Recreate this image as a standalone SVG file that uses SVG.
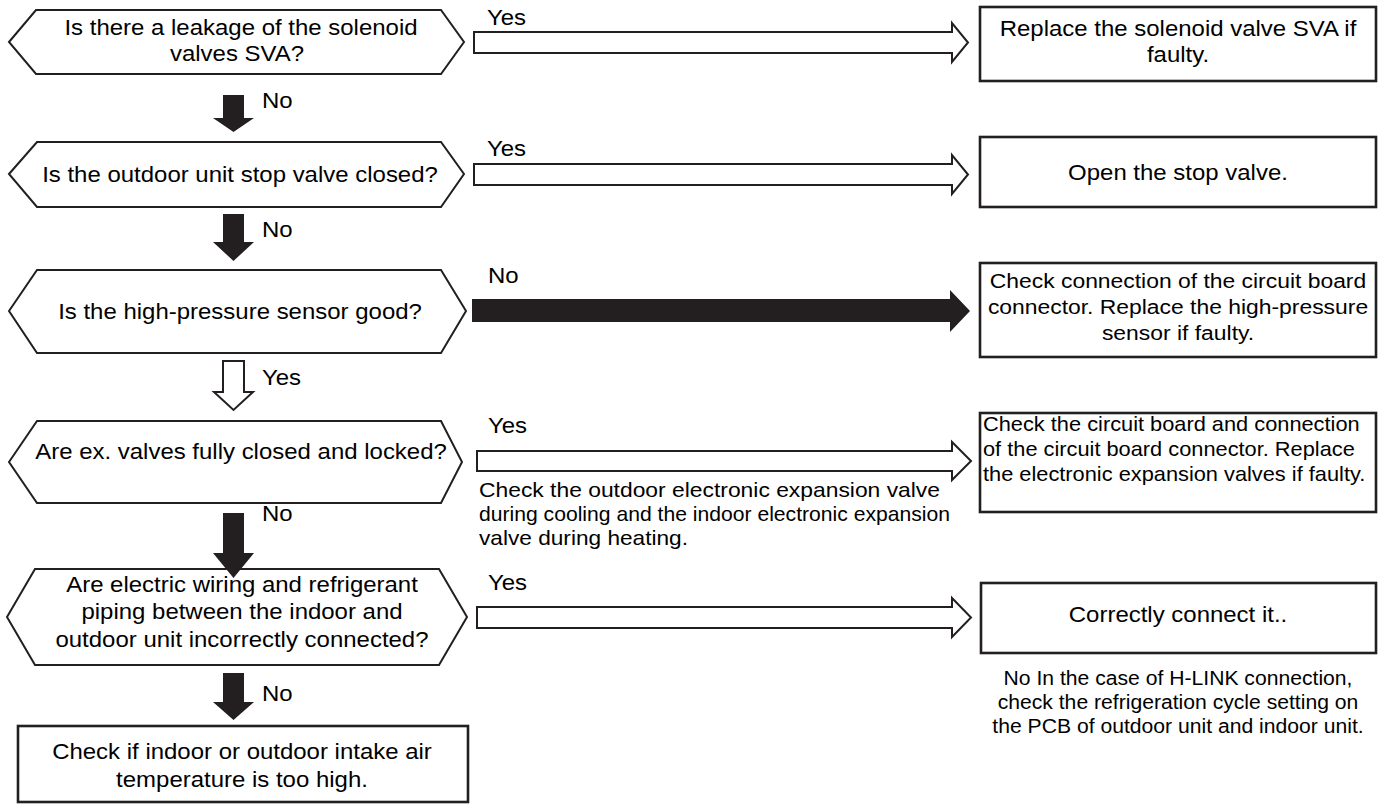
<svg xmlns="http://www.w3.org/2000/svg" width="1380" height="808" viewBox="0 0 1380 808">
<style>
.hex{fill:#fff;stroke:#231f20;stroke-width:2}
.box{fill:#fff;stroke:#231f20;stroke-width:2.6}
.open{fill:#fff;stroke:#231f20;stroke-width:2;stroke-linejoin:miter}
.solid{fill:#231f20;stroke:none}
text{font-family:"Liberation Sans",Arial,Helvetica,sans-serif;fill:#000}
.m{font-size:22px}
.b3{font-size:21px}
.b4{font-size:20px}
.n1{font-size:21px}
.n2{font-size:19.4px}
.c{text-anchor:middle}
</style>
<rect width="1380" height="808" fill="#fff"/>
<g id="q1">
<polygon class="hex" points="9,42 36,10 441,10 464,42 441,74 36,74"/>
<text class="m c" transform="translate(241 0) scale(1.09 1)" x="0" y="35">Is there a leakage of the solenoid</text>
<text class="m c" transform="translate(237 0) scale(1.09 1)" x="0" y="61">valves SVA?</text>
</g>
<g id="a1">
<rect class="box" x="980" y="7" width="396" height="74"/>
<text class="m c" transform="translate(1178 0) scale(1.09 1)" x="0" y="36">Replace the solenoid valve SVA if</text>
<text class="m c" transform="translate(1178 0) scale(1.09 1)" x="0" y="62">faulty.</text>
</g>
<g id="q2">
<polygon class="hex" points="9,174 37,142 441,142 464,174 441,207 37,207"/>
<text class="m c" transform="translate(240 0) scale(1.09 1)" x="0" y="182">Is the outdoor unit stop valve closed?</text>
</g>
<g id="a2">
<rect class="box" x="980" y="137" width="396" height="70"/>
<text class="m c" transform="translate(1178 0) scale(1.09 1)" x="0" y="180">Open the stop valve.</text>
</g>
<g id="q3">
<polygon class="hex" points="9,311 37,270 441,270 466,311 441,353 37,353"/>
<text class="m c" transform="translate(240 0) scale(1.09 1)" x="0" y="319">Is the high-pressure sensor good?</text>
</g>
<g id="a3">
<rect class="box" x="980" y="263" width="396" height="94"/>
<text class="b3 c" transform="translate(1178 0) scale(1.09 1)" x="0" y="288">Check connection of the circuit board</text>
<text class="b3 c" transform="translate(1178 0) scale(1.09 1)" x="0" y="314">connector. Replace the high-pressure</text>
<text class="b3 c" transform="translate(1178 0) scale(1.09 1)" x="0" y="340">sensor if faulty.</text>
</g>
<g id="q4">
<polygon class="hex" points="9,462 37,421 441,421 462,462 441,503 37,503"/>
<text class="m c" transform="translate(241 0) scale(1.09 1)" x="0" y="459">Are ex. valves fully closed and locked?</text>
</g>
<g id="a4">
<rect class="box" x="980" y="413" width="396" height="99"/>
<text class="b4" transform="translate(983 0) scale(1.09 1)" x="0" y="431">Check the circuit board and connection</text>
<text class="b4" transform="translate(983 0) scale(1.09 1)" x="0" y="456">of the circuit board connector. Replace</text>
<text class="b4" transform="translate(983 0) scale(1.09 1)" x="0" y="481">the electronic expansion valves if faulty.</text>
</g>
<g id="q5">
<polygon class="hex" points="7,617 35,569 439,569 467,617 439,665 35,665"/>
<text class="m c" transform="translate(242 0) scale(1.09 1)" x="0" y="592">Are electric wiring and refrigerant</text>
<text class="m c" transform="translate(242 0) scale(1.09 1)" x="0" y="619">piping between the indoor and</text>
<text class="m c" transform="translate(242 0) scale(1.09 1)" x="0" y="647">outdoor unit incorrectly connected?</text>
</g>
<g id="a5">
<rect class="box" x="981" y="583" width="395" height="70"/>
<text class="m c" transform="translate(1178 0) scale(1.09 1)" x="0" y="622">Correctly connect it..</text>
<text class="n2 c" transform="translate(1178 0) scale(1.09 1)" x="0" y="685">No In the case of H-LINK connection,</text>
<text class="n2 c" transform="translate(1178 0) scale(1.09 1)" x="0" y="709">check the refrigeration cycle setting on</text>
<text class="n2 c" transform="translate(1178 0) scale(1.09 1)" x="0" y="733">the PCB of outdoor unit and indoor unit.</text>
</g>
<g id="end">
<rect class="box" x="18" y="726" width="450" height="76"/>
<text class="m c" transform="translate(242 0) scale(1.09 1)" x="0" y="759">Check if indoor or outdoor intake air</text>
<text class="m c" transform="translate(242 0) scale(1.09 1)" x="0" y="787">temperature is too high.</text>
</g>
<g id="connectors">
<polygon class="open" points="474,32 952,32 952,23 968,42.5 952,62 952,53 474,53"/>
<text class="m" transform="translate(487 0) scale(1.09 1)" x="0" y="25">Yes</text>
<polygon class="solid" points="223,95 244,95 244,118 254,118 233.5,132 213,118 223,118"/>
<text class="m" transform="translate(262 0) scale(1.09 1)" x="0" y="108">No</text>
<polygon class="open" points="474,164 952,164 952,155 968,174.5 952,194 952,185 474,185"/>
<text class="m" transform="translate(487 0) scale(1.09 1)" x="0" y="156">Yes</text>
<polygon class="solid" points="223,214 244,214 244,242 254,242 233.5,261 213,242 223,242"/>
<text class="m" transform="translate(262 0) scale(1.09 1)" x="0" y="237">No</text>
<polygon class="solid" points="472,299 950,299 950,290 970,311 950,332 950,322 472,322"/>
<text class="m" transform="translate(488 0) scale(1.09 1)" x="0" y="283">No</text>
<polygon class="open" points="223,361 244,361 244,392 253,392 233.5,410 214,392 223,392"/>
<text class="m" transform="translate(262 0) scale(1.09 1)" x="0" y="385">Yes</text>
<polygon class="open" points="477,451 952,451 952,442 971,461 952,480 952,471 477,471"/>
<text class="m" transform="translate(488 0) scale(1.09 1)" x="0" y="433">Yes</text>
<text class="n1" x="479" y="497" textLength="461" lengthAdjust="spacingAndGlyphs">Check the outdoor electronic expansion valve</text>
<text class="n1" x="479" y="521" textLength="471" lengthAdjust="spacingAndGlyphs">during cooling and the indoor electronic expansion</text>
<text class="n1" x="479" y="545" textLength="209" lengthAdjust="spacingAndGlyphs">valve during heating.</text>
<polygon class="solid" points="223,513 244,513 244,553 254,553 233.5,578 213,553 223,553"/>
<text class="m" transform="translate(262 0) scale(1.09 1)" x="0" y="521">No</text>
<polygon class="open" points="477,607 952,607 952,598 971,617.5 952,637 952,628 477,628"/>
<text class="m" transform="translate(488 0) scale(1.09 1)" x="0" y="590">Yes</text>
<polygon class="solid" points="223,673 244,673 244,702 254,702 233.5,720 213,702 223,702"/>
<text class="m" transform="translate(262 0) scale(1.09 1)" x="0" y="701">No</text>
</g>
</svg>
